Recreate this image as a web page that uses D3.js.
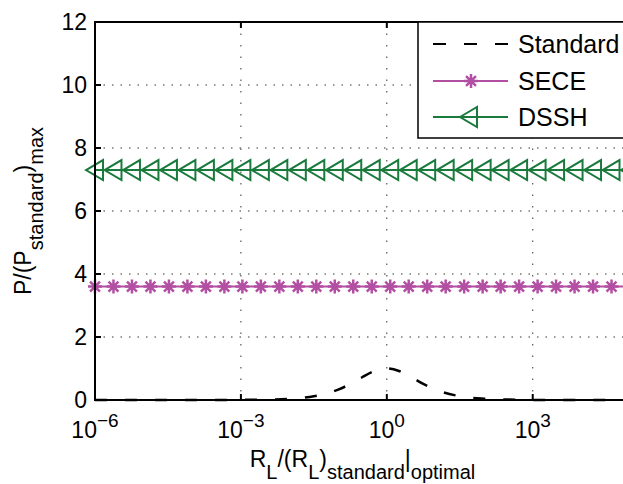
<!DOCTYPE html>
<html>
<head>
<meta charset="utf-8">
<script src="https://d3js.org/d3.v7.min.js"></script>
<style>
  body { margin: 0; background: #fff; }
  svg { display: block; font-family: "Liberation Sans", Arial, sans-serif; }
  .grid line { stroke: #333; stroke-width: 1; }
</style>
</head>
<body>
<svg width="623" height="484"></svg>
<script>
// x values are stored as powers of ten (exponents)
var xTickExp = [-6, -3, 0, 3];
var yTicks = [0, 2, 4, 6, 8, 10, 12];

// Standard curve
var standardExp = [-6, -5, -4, -3, -2.5, -2, -1.5, -1, -0.75, -0.5, -0.25, 0, 0.25, 0.5, 0.75, 1, 1.5, 2, 2.5, 3, 4, 5];
var standardVal = [0, 0, 0.0004, 0.004, 0.012, 0.04, 0.12, 0.33, 0.51, 0.73, 0.92, 1, 0.92, 0.73, 0.51, 0.33, 0.12, 0.04, 0.012, 0.004, 0.0004, 0];

// marker positions of SECE / DSSH
var markerExp = [-6, -5.62, -5.24, -4.86, -4.48, -4.10, -3.72, -3.34, -2.97, -2.59,
  -2.21, -1.83, -1.45, -1.07, -0.69, -0.31, 0.07, 0.45, 0.83, 1.21,
  1.59, 1.97, 2.34, 2.72, 3.10, 3.48, 3.86, 4.24, 4.62, 5.00];
var seceVal = [3.6, 3.6, 3.6, 3.6, 3.6, 3.6, 3.6, 3.6, 3.6, 3.6,
  3.6, 3.6, 3.6, 3.6, 3.6, 3.6, 3.6, 3.6, 3.6, 3.6,
  3.6, 3.6, 3.6, 3.6, 3.6, 3.6, 3.6, 3.6, 3.6, 3.6];
var dsshVal = [7.3, 7.3, 7.3, 7.3, 7.3, 7.3, 7.3, 7.3, 7.3, 7.3,
  7.3, 7.3, 7.3, 7.3, 7.3, 7.3, 7.3, 7.3, 7.3, 7.3,
  7.3, 7.3, 7.3, 7.3, 7.3, 7.3, 7.3, 7.3, 7.3, 7.3];

var legendNames = ["Standard", "SECE", "DSSH"];

var purple = "#b24fa2";
var green = "#1a7a3c";

var svg = d3.select("svg");
svg.append("rect").attr("width", 623).attr("height", 484).attr("fill", "#fff");

var pLeft = 95, pRight = 630, pTop = 22, pBottom = 400;

var x = d3.scaleLog().domain([1e-6, 1e5]).range([pLeft, pRight]);
var y = d3.scaleLinear().domain([0, 12]).range([pBottom, pTop]);

//grid
var grid = svg.append("g").attr("class", "grid");
grid.selectAll(".gy")
  .data(yTicks.filter(function(d) { return d > 0 && d < 12; }))
  .enter().append("line")
  .attr("x1", pLeft).attr("x2", pRight)
  .attr("y1", function(d) { return y(d); })
  .attr("y2", function(d) { return y(d); })
  .attr("stroke-dasharray", "1.5,7");
grid.selectAll(".gx")
  .data(xTickExp.filter(function(d) { return d > -6; }))
  .enter().append("line")
  .attr("y1", pTop).attr("y2", pBottom)
  .attr("x1", function(d) { return x(Math.pow(10, d)); })
  .attr("x2", function(d) { return x(Math.pow(10, d)); })
  .attr("stroke-dasharray", "1.5,10");

//lines
var line = d3.line()
  .x(function(d) { return x(Math.pow(10, d[0])); })
  .y(function(d) { return y(d[1]); });

svg.append("path")
  .datum(d3.zip(standardExp, standardVal))
  .attr("d", line.curve(d3.curveMonotoneX))
  .attr("fill", "none")
  .attr("stroke", "#000")
  .attr("stroke-width", 2.5)
  .attr("stroke-dasharray", "12,18");

line.curve(d3.curveLinear);

svg.append("path")
  .datum(d3.zip(markerExp, seceVal))
  .attr("d", line)
  .attr("fill", "none").attr("stroke", purple).attr("stroke-width", 2);

svg.append("path")
  .datum(d3.zip(markerExp, dsshVal))
  .attr("d", line)
  .attr("fill", "none").attr("stroke", green).attr("stroke-width", 2);

function starPath(r) {
  var p = d3.path();
  var k = r * Math.SQRT1_2;
  p.moveTo(0, -r); p.lineTo(0, r);
  p.moveTo(-r, 0); p.lineTo(r, 0);
  p.moveTo(-k, -k); p.lineTo(k, k);
  p.moveTo(-k, k); p.lineTo(k, -k);
  return p.toString();
}

function triPath() {
  var p = d3.path();
  p.moveTo(-9, 0); p.lineTo(8, -10); p.lineTo(8, 10); p.closePath();
  return p.toString();
}

svg.append("g").selectAll("path")
  .data(d3.zip(markerExp, seceVal))
  .enter().append("path")
  .attr("transform", function(d) { return "translate(" + x(Math.pow(10, d[0])) + "," + y(d[1]) + ")"; })
  .attr("d", starPath(7))
  .attr("fill", "none").attr("stroke", purple).attr("stroke-width", 2.5);

svg.append("g").selectAll("path")
  .data(d3.zip(markerExp, dsshVal))
  .enter().append("path")
  .attr("transform", function(d) { return "translate(" + x(Math.pow(10, d[0])) + "," + y(d[1]) + ")"; })
  .attr("d", triPath())
  .attr("fill", "none").attr("stroke", green).attr("stroke-width", 2);

//axes box and ticks
var ax = svg.append("g").attr("stroke", "#000").attr("stroke-width", 2);
ax.append("rect")
  .attr("x", pLeft).attr("y", pTop)
  .attr("width", pRight - pLeft).attr("height", pBottom - pTop)
  .attr("fill", "none");
yTicks.forEach(function(d) {
  ax.append("line").attr("x1", pLeft).attr("x2", pLeft + 6).attr("y1", y(d)).attr("y2", y(d));
  ax.append("line").attr("x1", pRight).attr("x2", pRight - 6).attr("y1", y(d)).attr("y2", y(d));
});
xTickExp.forEach(function(d) {
  var xx = x(Math.pow(10, d));
  ax.append("line").attr("x1", xx).attr("x2", xx).attr("y1", pBottom).attr("y2", pBottom - 6);
  ax.append("line").attr("x1", xx).attr("x2", xx).attr("y1", pTop).attr("y2", pTop + 6);
});

//tick labels
svg.append("g").selectAll("text")
  .data(yTicks)
  .enter().append("text")
  .attr("x", pLeft - 8)
  .attr("y", function(d) { return y(d) + 8; })
  .attr("text-anchor", "end")
  .attr("font-size", 23)
  .text(function(d) { return d; });

var xl = svg.append("g").selectAll("text")
  .data(xTickExp)
  .enter().append("text")
  .attr("x", function(d) { return x(Math.pow(10, d)); })
  .attr("y", 438)
  .attr("text-anchor", "middle")
  .attr("font-size", 23);
xl.append("tspan").text("10");
xl.append("tspan").attr("dy", -11).attr("font-size", 19)
  .text(function(d) { return d < 0 ? "\u2212" + (-d) : d; });

//axis labels
var xlab = svg.append("text")
  .attr("x", (pLeft + pRight) / 2).attr("y", 467)
  .attr("text-anchor", "middle").attr("font-size", 23);
[["R", 0], ["L", 1], ["/(R", 0], ["L", 1], [")", 0], ["standard", 1], ["|", 0], ["optimal", 1]]
  .forEach(function(p, i, arr) {
    var prev = i > 0 ? arr[i - 1][1] : 0;
    xlab.append("tspan")
      .attr("dy", (p[1] - prev) * 12)
      .attr("font-size", p[1] ? 20 : 23)
      .text(p[0]);
  });

var ylab = svg.append("text")
  .attr("transform", "translate(31," + (pTop + pBottom) / 2 + ") rotate(-90)")
  .attr("text-anchor", "middle").attr("font-size", 23);
[["P/(P", 0], ["standard", 1], [")", 0], ["max", 1]]
  .forEach(function(p, i, arr) {
    var prev = i > 0 ? arr[i - 1][1] : 0;
    ylab.append("tspan")
      .attr("dy", (p[1] - prev) * 12)
      .attr("font-size", p[1] ? 20 : 23)
      .text(p[0]);
  });

//legend
var lg = svg.append("g");
lg.append("rect")
  .attr("x", 418).attr("y", 22).attr("width", 240).attr("height", 116)
  .attr("fill", "#fff").attr("stroke", "#000").attr("stroke-width", 1.5);
var rowY = [44, 81, 117];
var rows = lg.selectAll(".row")
  .data(legendNames)
  .enter().append("g")
  .attr("transform", function(d, i) { return "translate(0," + rowY[i] + ")"; });
rows.append("line")
  .attr("x1", 433).attr("x2", 508)
  .attr("stroke", function(d, i) { return ["#000", purple, green][i]; })
  .attr("stroke-width", 2)
  .attr("stroke-dasharray", function(d, i) { return i == 0 ? "13,18" : null; });
rows.filter(function(d, i) { return i == 1; }).append("path")
  .attr("transform", "translate(471,0)")
  .attr("d", starPath(7)).attr("fill", "none").attr("stroke", purple).attr("stroke-width", 2.5);
rows.filter(function(d, i) { return i == 2; }).append("path")
  .attr("transform", "translate(469,0)")
  .attr("d", triPath()).attr("fill", "none").attr("stroke", green).attr("stroke-width", 2);
rows.append("text")
  .attr("x", 518).attr("y", 9)
  .attr("font-size", 25)
  .text(function(d) { return d; });
</script>
</body>
</html>
